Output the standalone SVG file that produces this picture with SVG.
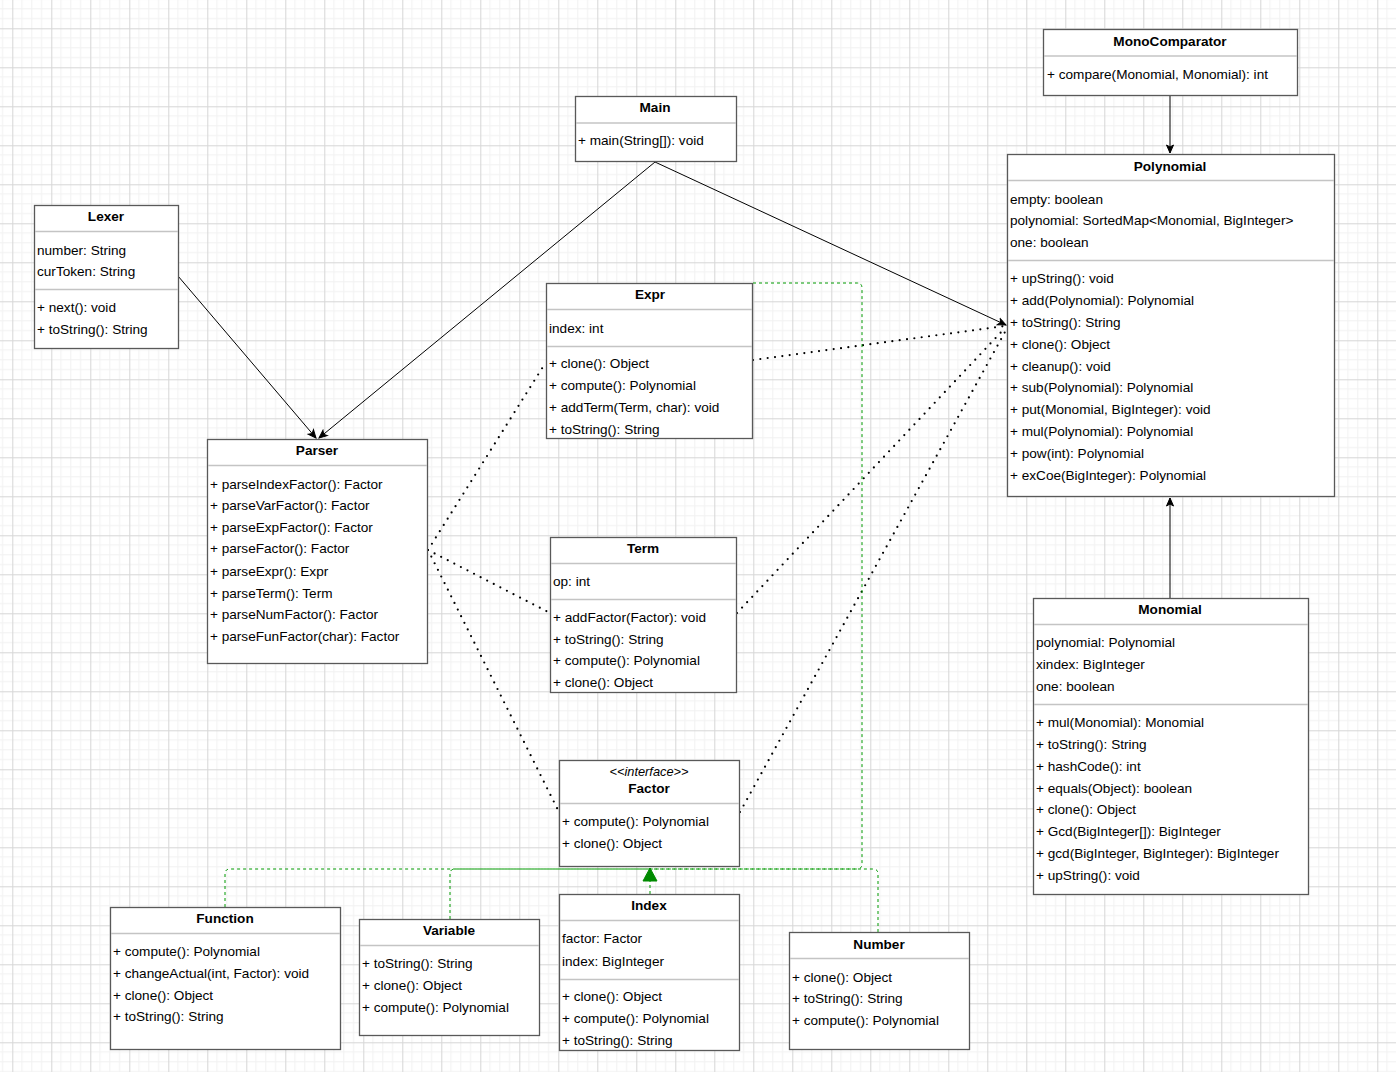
<svg xmlns="http://www.w3.org/2000/svg" width="1396" height="1072" viewBox="0 0 1396 1072">
<style>
.box{fill:#fff;stroke:#595959;stroke-width:1.3}
.sep{stroke:#c4c4c4;stroke-width:1.3}
.t{font-family:"Liberation Sans",Arial,sans-serif;font-size:13.6px;fill:#000}
.h{font-weight:bold;text-anchor:middle}
.i{font-style:italic;text-anchor:middle;font-size:12.8px}
.solid{fill:none;stroke:#000;stroke-width:1}
.dot{fill:none;stroke:#000;stroke-width:2.2;stroke-dasharray:0 7.4;stroke-linecap:round}
.green{fill:none;stroke:#009900;stroke-width:1;stroke-dasharray:3 3}
</style>
<defs>
<pattern id="grid" patternUnits="userSpaceOnUse" x="12.3" y="28.3" width="39" height="39">
<path d="M9.75 0V39M19.5 0V39M29.25 0V39M0 9.75H39M0 19.5H39M0 29.25H39" stroke="#f1f1f1" stroke-width="1" fill="none"/>
<path d="M0.5 0V39M0 0.5H39" stroke="#d6d6d6" stroke-width="1" fill="none"/>
</pattern>
<marker id="arr" markerWidth="10" markerHeight="10" viewBox="0 0 10 10" refX="9" refY="5" orient="auto" markerUnits="userSpaceOnUse">
<path d="M1 1.5L9 5L1 8.5L3 5Z" fill="#000" stroke="#000" stroke-width="1"/>
</marker>
<marker id="tri" markerWidth="16" markerHeight="16" viewBox="0 0 16 16" refX="15" refY="8" orient="auto" markerUnits="userSpaceOnUse">
<path d="M2 1L15 8L2 15Z" fill="#008a00" stroke="#008a00"/>
</marker>
</defs>
<rect width="1396" height="1072" fill="#fff"/>
<rect width="1396" height="1072" fill="url(#grid)"/>

<g id="connectors">
<path class="solid" d="M1170 95V153" marker-end="url(#arr)"/>
<path class="solid" d="M1170 598V498" marker-end="url(#arr)"/>
<path class="solid" d="M655 162L319 438" marker-end="url(#arr)"/>
<path class="solid" d="M655 162L1006 325" marker-end="url(#arr)"/>
<path class="solid" d="M178 276L316 438" marker-end="url(#arr)"/>
<path class="dot" d="M428 550L546 362"/>
<path class="dot" d="M428 550L550 613"/>
<path class="dot" d="M428 550L559 812"/>
<path class="dot" d="M753 360L1005 326"/>
<path class="dot" d="M737 613L1005 328"/>
<path class="dot" d="M740 812L1005 332"/>
<path class="green" d="M753 283H857Q862 283 862 288V864Q862 869 857 869H650"/>
<path class="green" d="M878 932V874Q878 869 873 869H650"/>
<path class="green" d="M225 907V874Q225 869 230 869H650"/>
<path class="green" d="M450 919V874Q450 869 455 869H650"/>
<path class="green" d="M650 894V868" marker-end="url(#tri)"/>
</g>

<g id="MonoComparator">
<rect class="box" x="1043.5" y="29.5" width="254" height="66"/>
<line class="sep" x1="1044" y1="56" x2="1297" y2="56"/>
<text class="t h" x="1170" y="46">MonoComparator</text>
<text class="t" x="1047" y="79">+ compare(Monomial, Monomial): int</text>
</g>

<g id="Polynomial">
<rect class="box" x="1007.5" y="154.5" width="327" height="342"/>
<line class="sep" x1="1008" y1="180.5" x2="1334" y2="180.5"/>
<line class="sep" x1="1008" y1="260.5" x2="1334" y2="260.5"/>
<text class="t h" x="1170" y="171">Polynomial</text>
<text class="t" x="1010" y="204">empty: boolean</text>
<text class="t" x="1010" y="225">polynomial: SortedMap&lt;Monomial, BigInteger&gt;</text>
<text class="t" x="1010" y="247">one: boolean</text>
<text class="t" x="1010" y="283">+ upString(): void</text>
<text class="t" x="1010" y="305">+ add(Polynomial): Polynomial</text>
<text class="t" x="1010" y="327">+ toString(): String</text>
<text class="t" x="1010" y="349">+ clone(): Object</text>
<text class="t" x="1010" y="371">+ cleanup(): void</text>
<text class="t" x="1010" y="392">+ sub(Polynomial): Polynomial</text>
<text class="t" x="1010" y="414">+ put(Monomial, BigInteger): void</text>
<text class="t" x="1010" y="436">+ mul(Polynomial): Polynomial</text>
<text class="t" x="1010" y="458">+ pow(int): Polynomial</text>
<text class="t" x="1010" y="480">+ exCoe(BigInteger): Polynomial</text>
</g>

<g id="Main">
<rect class="box" x="575.5" y="96.5" width="161" height="65"/>
<line class="sep" x1="576" y1="123" x2="736" y2="123"/>
<text class="t h" x="655" y="112">Main</text>
<text class="t" x="578" y="145">+ main(String[]): void</text>
</g>

<g id="Lexer">
<rect class="box" x="34.5" y="205.5" width="144" height="143"/>
<line class="sep" x1="35" y1="231.5" x2="178" y2="231.5"/>
<line class="sep" x1="35" y1="289.5" x2="178" y2="289.5"/>
<text class="t h" x="106" y="221">Lexer</text>
<text class="t" x="37" y="255">number: String</text>
<text class="t" x="37" y="276">curToken: String</text>
<text class="t" x="37" y="312">+ next(): void</text>
<text class="t" x="37" y="334">+ toString(): String</text>
</g>

<g id="Parser">
<rect class="box" x="207.5" y="439.5" width="220" height="224"/>
<line class="sep" x1="208" y1="465.5" x2="427" y2="465.5"/>
<text class="t h" x="317" y="455">Parser</text>
<text class="t" x="210" y="489">+ parseIndexFactor(): Factor</text>
<text class="t" x="210" y="510">+ parseVarFactor(): Factor</text>
<text class="t" x="210" y="532">+ parseExpFactor(): Factor</text>
<text class="t" x="210" y="553">+ parseFactor(): Factor</text>
<text class="t" x="210" y="576">+ parseExpr(): Expr</text>
<text class="t" x="210" y="598">+ parseTerm(): Term</text>
<text class="t" x="210" y="619">+ parseNumFactor(): Factor</text>
<text class="t" x="210" y="641">+ parseFunFactor(char): Factor</text>
</g>

<g id="Expr">
<rect class="box" x="546.5" y="283.5" width="206" height="155"/>
<line class="sep" x1="547" y1="309.5" x2="752" y2="309.5"/>
<line class="sep" x1="547" y1="346.5" x2="752" y2="346.5"/>
<text class="t h" x="650" y="299">Expr</text>
<text class="t" x="549" y="333">index: int</text>
<text class="t" x="549" y="368">+ clone(): Object</text>
<text class="t" x="549" y="390">+ compute(): Polynomial</text>
<text class="t" x="549" y="412">+ addTerm(Term, char): void</text>
<text class="t" x="549" y="434">+ toString(): String</text>
</g>

<g id="Term">
<rect class="box" x="550.5" y="537.5" width="186" height="155"/>
<line class="sep" x1="551" y1="563.5" x2="736" y2="563.5"/>
<line class="sep" x1="551" y1="599.5" x2="736" y2="599.5"/>
<text class="t h" x="643" y="553">Term</text>
<text class="t" x="553" y="586">op: int</text>
<text class="t" x="553" y="622">+ addFactor(Factor): void</text>
<text class="t" x="553" y="644">+ toString(): String</text>
<text class="t" x="553" y="665">+ compute(): Polynomial</text>
<text class="t" x="553" y="687">+ clone(): Object</text>
</g>

<g id="Factor">
<rect class="box" x="559.5" y="760.5" width="180" height="106"/>
<line class="sep" x1="560" y1="803.5" x2="739" y2="803.5"/>
<text class="t i" x="649" y="776">&lt;&lt;interface&gt;&gt;</text>
<text class="t h" x="649" y="793">Factor</text>
<text class="t" x="562" y="826">+ compute(): Polynomial</text>
<text class="t" x="562" y="848">+ clone(): Object</text>
</g>

<g id="Function">
<rect class="box" x="110.5" y="907.5" width="230" height="142"/>
<line class="sep" x1="111" y1="933.5" x2="340" y2="933.5"/>
<text class="t h" x="225" y="923">Function</text>
<text class="t" x="113" y="956">+ compute(): Polynomial</text>
<text class="t" x="113" y="978">+ changeActual(int, Factor): void</text>
<text class="t" x="113" y="1000">+ clone(): Object</text>
<text class="t" x="113" y="1021">+ toString(): String</text>
</g>

<g id="Variable">
<rect class="box" x="359.5" y="919.5" width="180" height="116"/>
<line class="sep" x1="360" y1="945.5" x2="539" y2="945.5"/>
<text class="t h" x="449" y="935">Variable</text>
<text class="t" x="362" y="968">+ toString(): String</text>
<text class="t" x="362" y="990">+ clone(): Object</text>
<text class="t" x="362" y="1012">+ compute(): Polynomial</text>
</g>

<g id="Index">
<rect class="box" x="559.5" y="894.5" width="180" height="156"/>
<line class="sep" x1="560" y1="920.5" x2="739" y2="920.5"/>
<line class="sep" x1="560" y1="979.5" x2="739" y2="979.5"/>
<text class="t h" x="649" y="910">Index</text>
<text class="t" x="562" y="943">factor: Factor</text>
<text class="t" x="562" y="966">index: BigInteger</text>
<text class="t" x="562" y="1001">+ clone(): Object</text>
<text class="t" x="562" y="1023">+ compute(): Polynomial</text>
<text class="t" x="562" y="1045">+ toString(): String</text>
</g>

<g id="Number">
<rect class="box" x="789.5" y="932.5" width="180" height="117"/>
<line class="sep" x1="790" y1="958.5" x2="969" y2="958.5"/>
<text class="t h" x="879" y="949">Number</text>
<text class="t" x="792" y="982">+ clone(): Object</text>
<text class="t" x="792" y="1003">+ toString(): String</text>
<text class="t" x="792" y="1025">+ compute(): Polynomial</text>
</g>

<g id="Monomial">
<rect class="box" x="1033.5" y="598.5" width="275" height="296"/>
<line class="sep" x1="1034" y1="624.5" x2="1308" y2="624.5"/>
<line class="sep" x1="1034" y1="704.5" x2="1308" y2="704.5"/>
<text class="t h" x="1170" y="614">Monomial</text>
<text class="t" x="1036" y="647">polynomial: Polynomial</text>
<text class="t" x="1036" y="669">xindex: BigInteger</text>
<text class="t" x="1036" y="691">one: boolean</text>
<text class="t" x="1036" y="727">+ mul(Monomial): Monomial</text>
<text class="t" x="1036" y="749">+ toString(): String</text>
<text class="t" x="1036" y="771">+ hashCode(): int</text>
<text class="t" x="1036" y="793">+ equals(Object): boolean</text>
<text class="t" x="1036" y="814">+ clone(): Object</text>
<text class="t" x="1036" y="836">+ Gcd(BigInteger[]): BigInteger</text>
<text class="t" x="1036" y="858">+ gcd(BigInteger, BigInteger): BigInteger</text>
<text class="t" x="1036" y="880">+ upString(): void</text>
</g>
</svg>
